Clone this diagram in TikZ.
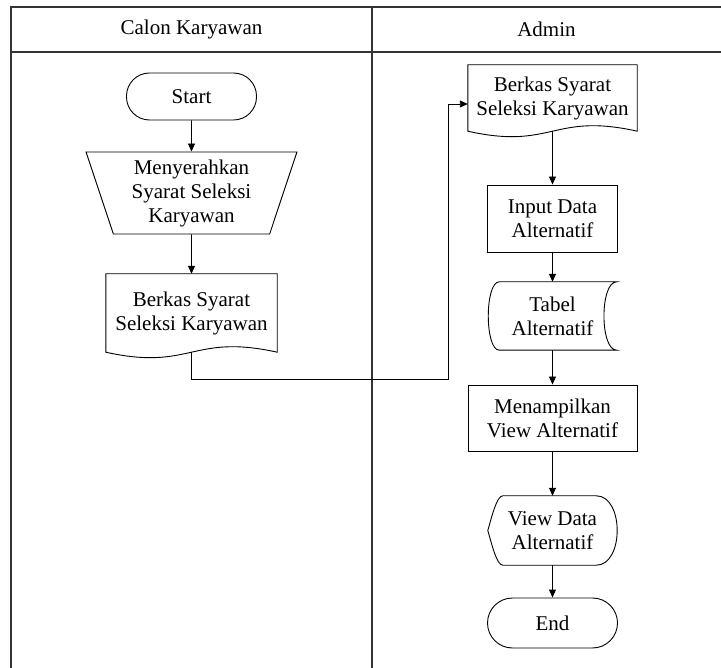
\documentclass[tikz,border=0pt]{standalone}
\usepackage{fontspec}
\setmainfont{Liberation Serif}
\usetikzlibrary{positioning}
\usetikzlibrary{shapes.geometric}
\usetikzlibrary{arrows.meta}

\begin{document}
\begin{tikzpicture}[x=1pt,y=-1pt,node distance=90pt,on grid,>={Triangle[length=8pt,width=7pt]},
    every node/.style={font=\fontsize{21}{24}\selectfont,align=center,inner sep=0pt},
    lane/.style={line width=1.1pt,draw=black!80},
    outline/.style={line width=0.9pt},
    terminal/.style={draw,outline,rectangle,rounded corners=23pt,minimum width=130pt,minimum height=47pt},
    process/.style={draw,outline,rectangle,minimum height=67pt},
    manual/.style={draw,outline,trapezium,trapezium left angle=72.7,trapezium right angle=72.7,
      shape border rotate=180,trapezium stretches=true,minimum width=211pt,minimum height=82pt},
    blank/.style={rectangle,minimum width=169pt}]
        \useasboundingbox (0,0) rectangle (721,668);

        % swimlanes
        \draw[lane] (721,7) -- (11,7) -- (11,668);
        \draw[lane] (11,52) -- (721,52);
        \draw[lane] (372,7) -- (372,668);
        \node (lane1) at (191.5,29.5) {Calon Karyawan};
        \node (lane2) at (546.5,29.5) {Admin};

        \node[terminal] (start) at (191.5,96.5) {Start};
        \node[manual] (serah) [below=96.5pt of start] {Menyerahkan\\Syarat Seleksi\\Karyawan};
        \node[blank,minimum width=171pt,minimum height=78pt] (berkas1) [below=120pt of serah] {Berkas Syarat\\Seleksi Karyawan};

        \node[blank,minimum height=66pt] (berkas2) at (552.5,98) {Berkas Syarat\\Seleksi Karyawan};
        \node[process,minimum width=130pt] (input) [below=120.5pt of berkas2] {Input Data\\Alternatif};
        \node[blank,minimum width=128pt,minimum height=68pt] (tabel) [below=97.5pt of input] {Tabel\\Alternatif};
        \node[process,minimum width=169pt,minimum height=66pt] (tampil) [below=102pt of tabel] {Menampilkan\\View Alternatif};
        \node[blank,minimum width=129pt,minimum height=69pt] (view) [below=112.5pt of tampil] {View Data\\Alternatif};
        \node[terminal,minimum height=50pt,rounded corners=25pt] (end) [below=92.5pt of view] {End};

        % document shapes
        \draw[outline] (berkas1.north west) -- (berkas1.north east) -- (berkas1.south east)
          .. controls ([yshift=19pt]berkas1.south) and ([yshift=-19pt]berkas1.south) .. (berkas1.south west) -- cycle;
        \draw[outline] (berkas2.north west) -- (berkas2.north east) -- (berkas2.south east)
          .. controls ([yshift=19pt]berkas2.south) and ([yshift=-19pt]berkas2.south) .. (berkas2.south west) -- cycle;

        % stored data
        \draw[outline] ([xshift=11pt]tabel.north west) -- (tabel.north east)
          .. controls ([xshift=-17pt]tabel.north east) and ([xshift=-17pt]tabel.south east) .. (tabel.south east)
          -- ([xshift=11pt]tabel.south west)
          .. controls ([xshift=-3.7pt]tabel.south west) and ([xshift=-3.7pt]tabel.north west) .. cycle;

        % display
        \draw[outline] (view.west) .. controls ([xshift=4pt,yshift=14pt]view.west) and ([xshift=9pt]view.north west) .. ([xshift=15pt]view.north west)
          -- ([xshift=-21pt]view.north east)
          .. controls ([xshift=7pt]view.north east) and ([xshift=7pt]view.south east) .. ([xshift=-21pt]view.south east)
          -- ([xshift=15pt]view.south west)
          .. controls ([xshift=9pt]view.south west) and ([xshift=4pt,yshift=-14pt]view.west) .. cycle;

        \path [->, outline]
          (start) edge [] (serah)
          (serah) edge [] (berkas1)
          (berkas2) edge [] (input)
          (input) edge [] (tabel)
          (tabel) edge [] (tampil)
          (tampil) edge [] (view)
          (view) edge [] (end);

        \draw [->, outline] (berkas1.south) -- ++(0,27) -| ([xshift=-19pt,yshift=-6pt]berkas2.west) -- ([yshift=-6pt]berkas2.west);

\end{tikzpicture}
\end{document}
